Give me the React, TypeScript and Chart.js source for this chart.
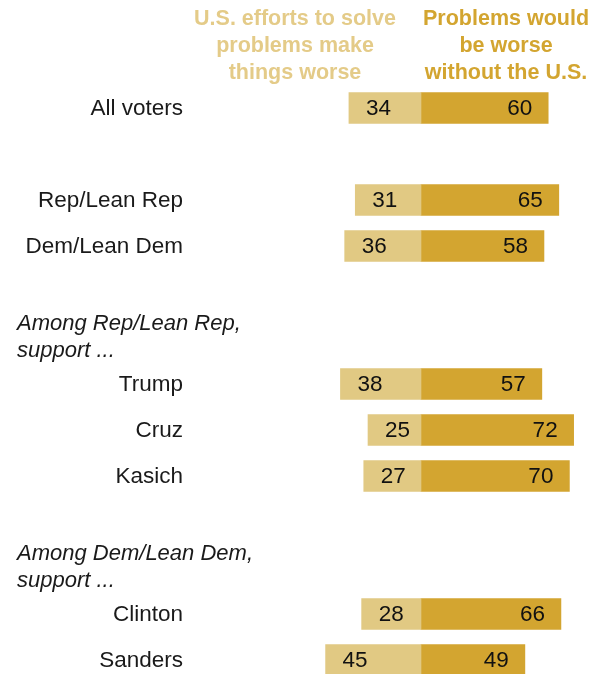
import React, { useEffect, useRef } from "react";
import { Chart, registerables } from "chart.js";

Chart.register(...registerables);

const categories = [
  "All voters",
  "",
  "Rep/Lean Rep",
  "Dem/Lean Dem",
  "",
  "Among Rep/Lean Rep,\nsupport ...",
  "Trump",
  "Cruz",
  "Kasich",
  "",
  "Among Dem/Lean Dem,\nsupport ...",
  "Clinton",
  "Sanders",
];
const groupHeaderRows = [5, 10];
const worseValues = [34, null, 31, 36, null, null, 38, 25, 27, null, null, 28, 45];
const withoutValues = [60, null, 65, 58, null, null, 57, 72, 70, null, null, 66, 49];
const leftTitle = ["U.S. efforts to solve", "problems make", "things worse"];
const rightTitle = ["Problems would", "be worse", "without the U.S."];

const LIGHT = "#E1C983";
const DARK = "#D3A530";
const FONT = "'Liberation Sans', Arial, sans-serif";

export default function App() {
  const ref = useRef<HTMLCanvasElement | null>(null);

  useEffect(() => {
    if (!ref.current) return;
    const W = 596;
    const zeroX = 421;
    const pxPerUnit = 2.12;

    const labelPlugin = {
      id: "labels",
      afterDatasetsDraw(chart: any) {
        const ctx = chart.ctx;
        const ys = chart.scales.y;
        const xs = chart.scales.x;
        ctx.save();
        // column titles
        ctx.font = `bold 21.5px ${FONT}`;
        ctx.textAlign = "center";
        ctx.textBaseline = "middle";
        const lineYs = [19, 46, 73];
        leftTitle.forEach((t, i) => {
          ctx.fillStyle = "#E4CB88";
          ctx.fillText(t, 295, lineYs[i]);
        });
        rightTitle.forEach((t, i) => {
          ctx.fillStyle = DARK;
          ctx.fillText(t, 506, lineYs[i]);
        });
        // category labels
        categories.forEach((c, i) => {
          if (!c) return;
          const y = ys.getPixelForValue(i);
          ctx.fillStyle = "#1a1a1a";
          if (groupHeaderRows.includes(i)) {
            ctx.font = `italic 22px ${FONT}`;
            ctx.textAlign = "left";
            const lines = c.split("\n");
            ctx.fillText(lines[0], 17, y - 14);
            ctx.fillText(lines[1], 17, y + 13);
          } else {
            ctx.font = `22.5px ${FONT}`;
            ctx.textAlign = "right";
            ctx.fillText(c, 183, y + 1);
          }
        });
        // values
        ctx.font = `22.5px ${FONT}`;
        ctx.fillStyle = "#111";
        categories.forEach((_, i) => {
          const y = ys.getPixelForValue(i) + 1;
          const a = worseValues[i];
          const b = withoutValues[i];
          if (a != null) {
            ctx.textAlign = "left";
            ctx.fillText(String(a), xs.getPixelForValue(-a) + 17, y);
          }
          if (b != null) {
            ctx.textAlign = "right";
            ctx.fillText(String(b), xs.getPixelForValue(b) - 16, y);
          }
        });
        ctx.restore();
      },
    };

    const chart = new Chart(ref.current, {
      type: "bar",
      data: {
        labels: categories,
        datasets: [
          {
            label: "worse",
            data: worseValues.map((v) => (v == null ? null : -v)),
            backgroundColor: LIGHT,
            barThickness: 31,
            borderWidth: 0,
          },
          {
            label: "without",
            data: withoutValues,
            backgroundColor: DARK,
            barThickness: 31,
            borderWidth: 0,
          },
        ],
      },
      options: {
        indexAxis: "y",
        responsive: false,
        animation: false,
        devicePixelRatio: 1,
        layout: { padding: { top: 85, bottom: 17, left: 0, right: 0 } },
        plugins: { legend: { display: false }, tooltip: { enabled: false } },
        scales: {
          x: {
            type: "linear",
            stacked: true,
            display: false,
            min: -zeroX / pxPerUnit,
            max: (W - zeroX) / pxPerUnit,
          },
          y: { type: "category", stacked: true, display: false, offset: true },
        },
      },
      plugins: [labelPlugin],
    });
    return () => chart.destroy();
  }, []);

  return (
    <div
      style={{
        position: "fixed",
        left: 0,
        top: 0,
        width: 596,
        height: 674,
        overflow: "hidden",
        background: "#fff",
      }}
    >
      <canvas ref={ref} width={596} height={700} style={{ display: "block" }} />
    </div>
  );
}
